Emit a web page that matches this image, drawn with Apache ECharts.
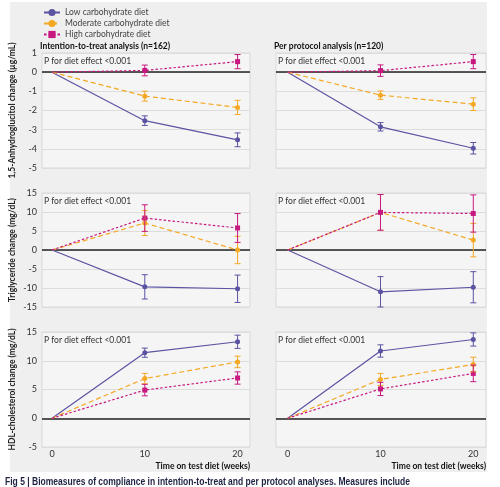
<!DOCTYPE html>
<html><head><meta charset="utf-8">
<script src="https://cdn.jsdelivr.net/npm/echarts@6/dist/echarts.min.js"></script>
<style>html,body{margin:0;padding:0;background:#fff}#c{width:500px;height:487px}</style>
</head><body><div id="c"></div>
<script>
const timepoints = [0, 10, 20];
const dietNames = ['Low carbohydrate diet', 'Moderate carbohydrate diet', 'High carbohydrate diet'];
const xTickLabels = [0, 10, 20];
const panelTitles = ['Intention-to-treat analysis (n=162)', 'Per protocol analysis (n=120)'];
const yNames = ['1,5-Anhydroglucitol change (\u00b5g/mL)', 'Triglyceride change (mg/dL)', 'HDL-cholesterol change (mg/dL)'];
const pText = 'P for diet effect <0.001';
const captionText = 'Fig 5 | Biomeasures of compliance in intention-to-treat and per protocol analyses. Measures include';

// 1,5-Anhydroglucitol, intention-to-treat
const ittAgLow = [0, -2.53, -3.53], ittAgLowErr = [0, 0.25, 0.36];
const ittAgMod = [0, -1.25, -1.84], ittAgModErr = [0, 0.26, 0.37];
const ittAgHigh = [0, 0.09, 0.55], ittAgHighErr = [0, 0.28, 0.37];
// 1,5-Anhydroglucitol, per protocol
const ppAgLow = [0, -2.85, -3.97], ppAgLowErr = [0, 0.22, 0.30];
const ppAgMod = [0, -1.20, -1.67], ppAgModErr = [0, 0.22, 0.33];
const ppAgHigh = [0, 0.08, 0.55], ppAgHighErr = [0, 0.30, 0.37];
// Triglyceride, intention-to-treat
const ittTgLow = [0, -9.7, -10.2], ittTgLowErr = [0, 3.2, 3.6];
const ittTgMod = [0, 7.1, 0.0], ittTgModErr = [0, 3.3, 3.6];
const ittTgHigh = [0, 8.4, 5.8], ittTgHighErr = [0, 3.5, 3.8];
// Triglyceride, per protocol
const ppTgLow = [0, -11.0, -9.8], ppTgLowErr = [0, 4.0, 4.1];
const ppTgMod = [0, 9.9, 2.6], ppTgModErr = [0, 4.7, 4.4];
const ppTgHigh = [0, 9.9, 9.6], ppTgHighErr = [0, 4.7, 4.9];
// HDL-cholesterol, intention-to-treat
const ittHdlLow = [0, 11.4, 13.3], ittHdlLowErr = [0, 0.8, 1.15];
const ittHdlMod = [0, 6.9, 9.8], ittHdlModErr = [0, 0.9, 1.0];
const ittHdlHigh = [0, 4.9, 7.0], ittHdlHighErr = [0, 1.0, 1.07];
// HDL-cholesterol, per protocol
const ppHdlLow = [0, 11.7, 13.7], ppHdlLowErr = [0, 1.07, 1.15];
const ppHdlMod = [0, 6.75, 9.35], ppHdlModErr = [0, 1.04, 1.27];
const ppHdlHigh = [0, 5.1, 7.8], ppHdlHighErr = [0, 1.15, 1.44];

const yRanges = [[-5, 1, 1], [-15, 15, 5], [-5, 15, 5]];

const panels = [
  [[ittAgLow, ittAgLowErr], [ittAgMod, ittAgModErr], [ittAgHigh, ittAgHighErr]],
  [[ppAgLow, ppAgLowErr], [ppAgMod, ppAgModErr], [ppAgHigh, ppAgHighErr]],
  [[ittTgLow, ittTgLowErr], [ittTgMod, ittTgModErr], [ittTgHigh, ittTgHighErr]],
  [[ppTgLow, ppTgLowErr], [ppTgMod, ppTgModErr], [ppTgHigh, ppTgHighErr]],
  [[ittHdlLow, ittHdlLowErr], [ittHdlMod, ittHdlModErr], [ittHdlHigh, ittHdlHighErr]],
  [[ppHdlLow, ppHdlLowErr], [ppHdlMod, ppHdlModErr], [ppHdlHigh, ppHdlHighErr]]
];

const colors = ['#5b54a2', '#f4a824', '#c71a80'];
const dashes = ['solid', [5, 3], [2.5, 2]];
const symbols = ['circle', 'circle', 'rect'];
const FONT = 'Lato, "Noto Sans", sans-serif';

const colLeft = [42, 276], colWidth = [208, 210];
const xMin = [-1.08, -1.26], xMax = [21.34, 21.37];
const rowTop = [53, 193, 332], rowHeight = [115, 114, 115];

const grids = [], xAxes = [], yAxes = [], series = [];

function errRender(params, api) {
  const x = api.value(0), lo = api.value(1), hi = api.value(2);
  const p1 = api.coord([x, lo]), p2 = api.coord([x, hi]);
  const w = 3;
  const style = { stroke: api.visual('color'), lineWidth: 1 };
  return { type: 'group', children: [
    { type: 'line', shape: { x1: p1[0], y1: p1[1], x2: p2[0], y2: p2[1] }, style },
    { type: 'line', shape: { x1: p1[0] - w, y1: p1[1], x2: p1[0] + w, y2: p1[1] }, style },
    { type: 'line', shape: { x1: p2[0] - w, y1: p2[1], x2: p2[0] + w, y2: p2[1] }, style }
  ] };
}

for (let r = 0; r < 3; r++) {
  for (let c = 0; c < 2; c++) {
    const idx = r * 2 + c;
    grids.push({ left: colLeft[c], top: rowTop[r], width: colWidth[c], height: rowHeight[r],
      show: true, backgroundColor: '#f5f5f5', borderColor: '#d9d9d9', borderWidth: 1 });
    xAxes.push({ type: 'value', gridIndex: idx, min: xMin[c], max: xMax[c],
      axisLine: { show: false }, axisTick: { show: false }, splitLine: { show: false },
      axisLabel: { show: r === 2, customValues: xTickLabels, fontSize: 9, color: '#333', margin: 3, fontFamily: FONT } });
    yAxes.push({ type: 'value', gridIndex: idx, min: yRanges[r][0], max: yRanges[r][1], interval: yRanges[r][2],
      axisLine: { show: false }, axisTick: { show: false },
      splitLine: { show: true, lineStyle: { color: '#dddddd', width: 1 } },
      axisLabel: { show: c === 0, fontSize: 9, color: '#333', margin: 5, fontFamily: FONT },
      name: c === 0 ? yNames[r] : '', nameLocation: 'middle', nameGap: 25,
      nameTextStyle: { fontSize: 8.5, fontWeight: 'bold', color: '#222', fontFamily: FONT } });
    panels[idx].forEach((pair, k) => {
      const vals = pair[0], errs = pair[1];
      const s = {
        name: dietNames[k], type: 'line', xAxisIndex: idx, yAxisIndex: idx,
        data: timepoints.map((t, i) => [t, vals[i]]),
        symbol: symbols[k], symbolSize: (v, p) => p.dataIndex === 0 ? 0 : 5,
        showSymbol: true,
        lineStyle: { color: colors[k], width: 1.2, type: dashes[k] },
        itemStyle: { color: colors[k] },
        z: 5, silent: true, animation: false
      };
      if (k === 0) {
        s.markLine = { silent: true, symbol: 'none', label: { show: false }, animation: false,
          lineStyle: { color: '#222', width: 1.5, type: 'solid' }, z: 3,
          data: [{ yAxis: 0 }] };
      }
      series.push(s);
      series.push({
        name: dietNames[k] + ' error', type: 'custom', xAxisIndex: idx, yAxisIndex: idx,
        renderItem: errRender, itemStyle: { color: colors[k] }, z: 6, silent: true, animation: false,
        encode: { x: 0, y: [1, 2] },
        data: timepoints.slice(1).map((t, i) => [t, vals[i + 1] - errs[i + 1], vals[i + 1] + errs[i + 1]])
      });
    });
  }
}

const graphics = [
  { type: 'rect', shape: { x: 10, y: 2, width: 477, height: 470 }, style: { fill: '#efefef' }, z: -10 }
];
panelTitles.forEach((t, c) => {
  graphics.push({ type: 'text', x: colLeft[c] - 2, y: 46, style: { text: t, fontSize: 8.5, fontWeight: 'bold',
    fill: '#111', fontFamily: FONT, verticalAlign: 'middle' } });
  for (let r = 0; r < 3; r++) {
    graphics.push({ type: 'text', x: colLeft[c] + 2, y: rowTop[r] + 8, z: 10, style: { text: pText, fontSize: 8.5,
      fill: '#333', fontFamily: FONT, verticalAlign: 'middle' } });
  }
  graphics.push({ type: 'text', x: colLeft[c] + colWidth[c], y: 466, style: { text: 'Time on test diet (weeks)', fontSize: 8.5,
    fontWeight: 'bold', fill: '#111', fontFamily: FONT, align: 'right', verticalAlign: 'middle' } });
});

// caption: condensed look by horizontal scaling to the target width
const capFont = 'bold 10.5px "Liberation Sans", Arial, sans-serif';
const mctx = document.createElement('canvas').getContext('2d');
mctx.font = capFont;
const capW = mctx.measureText(captionText).width;
const capScale = Math.min(1, 405 / capW);
graphics.push({ type: 'text', x: 5, y: 482, scaleX: capScale, style: {
  text: captionText, fontSize: 10.5, fontWeight: 'bold', fill: '#1e2242',
  fontFamily: '"Liberation Sans", Arial, sans-serif', verticalAlign: 'middle' } });

const chart = echarts.init(document.getElementById('c'), null, { renderer: 'canvas' });
chart.setOption({
  animation: false,
  backgroundColor: '#ffffff',
  legend: { data: dietNames, orient: 'vertical', left: 38, top: 3, itemWidth: 16, itemHeight: 9, itemGap: 2,
    textStyle: { fontSize: 8.5, color: '#444', fontFamily: FONT }, selectedMode: false },
  grid: grids, xAxis: xAxes, yAxis: yAxes, series: series, graphic: graphics
});
</script></body></html>
